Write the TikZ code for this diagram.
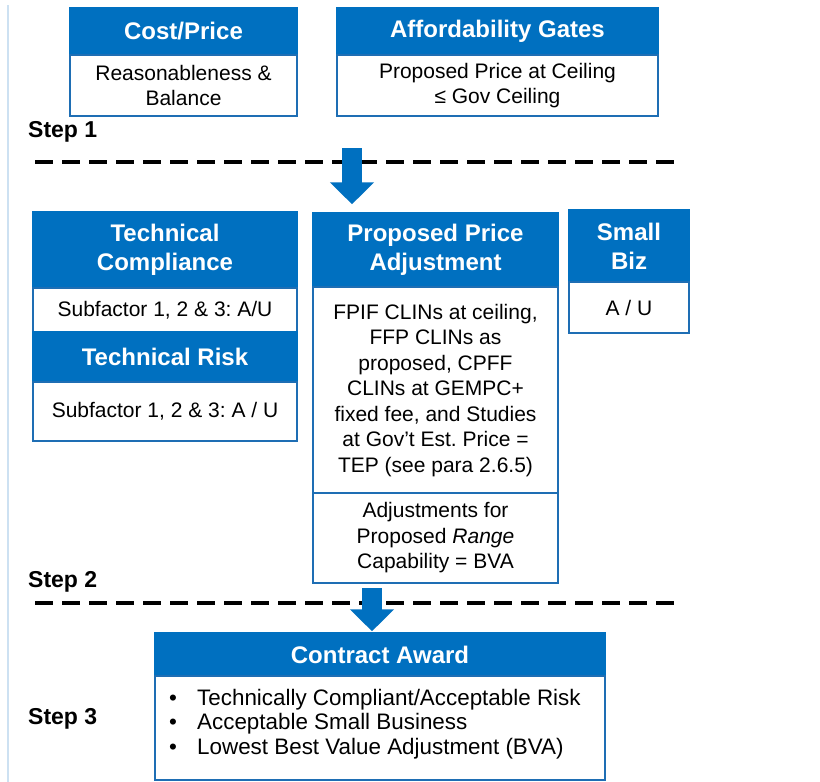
\documentclass[tikz,border=0pt]{standalone}
\usepackage{fontspec}
\setmainfont{Liberation Sans}
\usetikzlibrary{arrows.meta}
\definecolor{hblue}{RGB}{0,112,192}
\definecolor{edgeblue}{RGB}{30,110,180}
\definecolor{leftline}{RGB}{205,225,242}
\frenchspacing
\begin{document}
\begin{tikzpicture}[x=1pt,y=-1pt,
  hdr/.style={fill=hblue, draw=hblue, line width=1.5pt, text=white,
    font=\fontsize{24}{29}\selectfont\bfseries, align=center, inner sep=0pt,
    minimum width=#1},
  bodybox/.style={fill=white, draw=edgeblue, line width=1.5pt,
    font=\fontsize{21}{25.5}\selectfont, align=center, inner sep=0pt,
    minimum width=#1},
  steplabel/.style={font=\fontsize{23}{28}\selectfont\bfseries, anchor=west, inner sep=0pt},
  sepline/.style={line width=4pt, dash pattern=on 18pt off 9pt},
  bigarrow/.style={draw=hblue, line width=20pt, -{Triangle[width=43pt,length=22pt]}}
]
\useasboundingbox (0,0) rectangle (820,782);
\fill[white] (0,0) rectangle (820,782);
\draw[leftline, line width=1.5pt] (8,5) -- (8,782);

% Step 1 boxes
\node[hdr=227pt, minimum height=47pt] (costh) at (183.5,31.5) {Cost/Price};
\node[bodybox=227pt, minimum height=61pt] (costb) at (183.5,85.5) {Reasonableness \&\\Balance};
\node[hdr=321pt, minimum height=47pt] (affh) at (497.5,31.5) {Affordability Gates};
\node[bodybox=321pt, minimum height=61pt] (affb) at (497.5,85.5) {Proposed Price at Ceiling\\≤ Gov Ceiling};

\node[steplabel] (s1) at (28,132) {Step 1};
\coordinate (d1a) at (35,162);
\coordinate (d1b) at (680,162);
\draw[sepline] (d1a) -- (d1b);

% Step 2 boxes
\node[hdr=264pt, minimum height=76pt] (tch) at (165,250) {Technical\\Compliance};
\node[bodybox=264pt, minimum height=44pt] (tcb) at (165,310) {Subfactor 1, 2 \& 3: A/U};
\node[hdr=264pt, minimum height=50pt] (trh) at (165,357) {Technical Risk};
\node[bodybox=264pt, minimum height=59pt] (trb) at (165,411.5) {Subfactor 1, 2 \& 3: A / U};

\node[hdr=245pt, minimum height=73pt] (ppah) at (435.5,249.5) {Proposed Price\\Adjustment};
\node[bodybox=245pt, minimum height=207pt] (ppab) at (435.5,390.5) {FPIF CLINs at ceiling,\\FFP CLINs as\\proposed, CPFF\\CLINs at GEMPC+\\fixed fee, and Studies\\at Gov’t Est. Price =\\TEP (see para 2.6.5)};
\node[bodybox=245pt, minimum height=90pt] (ppac) at (435.5,538) {Adjustments for\\Proposed \textit{Range}\\Capability = BVA};

\node[hdr=120pt, minimum height=72pt] (sbh) at (629,246) {Small\\Biz};
\node[bodybox=120pt, minimum height=51pt] (sbb) at (629,307.5) {A / U};

\coordinate (a1s) at (352,148);
\draw[bigarrow, shorten >=8pt] (a1s) -- (a1s |- ppah.north);

\node[steplabel] (s2) at (28,582) {Step 2};
\coordinate (d2a) at (35,603);
\coordinate (d2b) at (680,603);
\draw[sepline] (d2a) -- (d2b);

% Step 3
\node[hdr=450pt, minimum height=43pt] (cah) at (380,654.5) {Contract Award};
\node[bodybox=450pt, minimum height=104pt] (cab) at (380,728) {};
\node[font=\fontsize{22.4}{24.6}\selectfont, align=left, anchor=west, inner sep=0pt] (calist) at (168,724)
  {\makebox[29pt][l]{\hspace{1pt}\textbullet}Technically Compliant/Acceptable Risk\\
   \makebox[29pt][l]{\hspace{1pt}\textbullet}Acceptable Small Business\\
   \makebox[29pt][l]{\hspace{1pt}\textbullet}Lowest Best Value Adjustment (BVA)};

\coordinate (a2s) at (372,588);
\draw[bigarrow, shorten >=1pt] (a2s) -- (a2s |- cah.north);

\node[steplabel] (s3) at (28,719) {Step 3};
\end{tikzpicture}
\end{document}
